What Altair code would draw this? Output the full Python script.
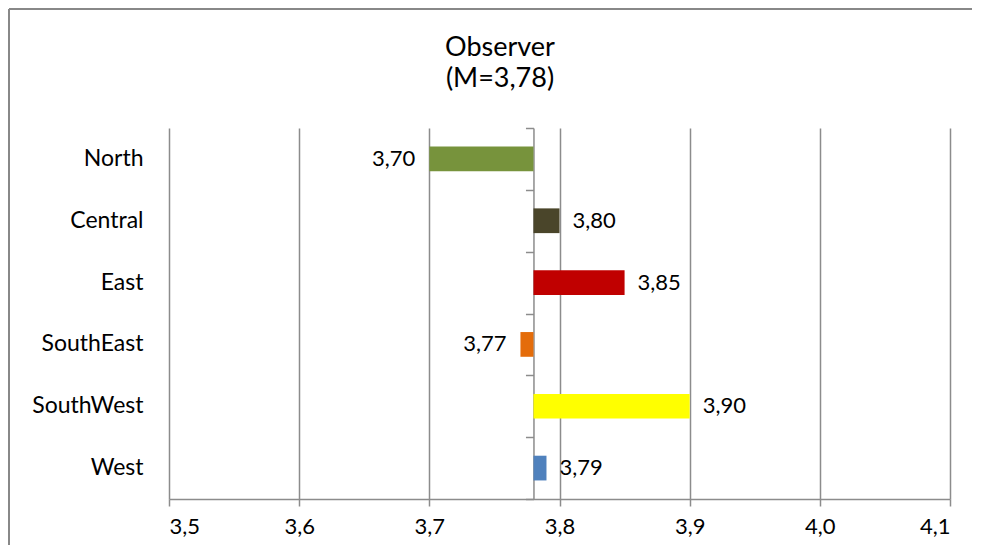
import altair as alt
import pandas as pd

regions = ["North", "Central", "East", "SouthEast", "SouthWest", "West"]
values = [3.70, 3.80, 3.85, 3.77, 3.90, 3.79]
colors = ["#77933C", "#4A452A", "#C00000", "#E46C0A", "#FFFF00", "#4F81BD"]
mean_value = 3.78
x_ticks = [3.5, 3.6, 3.7, 3.8, 3.9, 4.0, 4.1]
title_lines = ["Observer", "(M=3,78)"]

df = pd.DataFrame({
    "region": regions,
    "value": values,
    "color": colors,
    "label": [f"{v:.2f}".replace(".", ",") for v in values],
    "side": ["left" if v < mean_value else "right" for v in values],
})

FONT = "Lato"
GRID = "#8C8C8C"
W, H = 781, 371

yscale = alt.Scale(domain=regions, paddingInner=0.6, paddingOuter=0.3)
yaxis = alt.Axis(title=None, domain=False, ticks=False, labelPadding=26,
                 labelFontSize=23, labelFont=FONT, labelColor="#000")
yenc = alt.Y("region:N", sort=regions, scale=yscale, axis=yaxis)
xscale = alt.Scale(domain=[3.5, 4.1], nice=False, zero=False)
xaxis = alt.Axis(title=None, values=x_ticks, labelExpr="replace(format(datum.value, '.1f'), '.', ',')",
                 grid=True, gridColor=GRID, gridWidth=1.5, domainColor=GRID, domainWidth=1.5,
                 tickColor=GRID, tickWidth=1.5, tickSize=7, labelPadding=10,
                 labelFontSize=22, labelFont=FONT, labelColor="#000")
xenc = alt.X("value:Q", scale=xscale, axis=xaxis)

base = alt.Chart(df)

bars = base.mark_bar().encode(
    x=xenc,
    x2=alt.datum(mean_value),
    y=yenc,
    color=alt.Color("color:N", scale=None, legend=None),
)

text_right = base.transform_filter(alt.datum.side == "right").mark_text(
    align="left", dx=13, fontSize=22, font=FONT, color="#000"
).encode(x=xenc, y=yenc, text="label:N")

text_left = base.transform_filter(alt.datum.side == "left").mark_text(
    align="right", dx=-14, fontSize=22, font=FONT, color="#000"
).encode(x=xenc, y=yenc, text="label:N")

# Vertical axis at the mean, with ticks at the category boundaries
mean_axis = base.mark_rule(opacity=0).encode(
    x=alt.datum(mean_value),
    y=alt.Y("region:N", sort=regions,
            scale=alt.Scale(domain=regions, paddingInner=0, paddingOuter=0),
            axis=alt.Axis(title=None, orient="left", offset=-(W * (mean_value - 3.5) / 0.6),
                          labels=False, tickBand="extent", tickColor=GRID, tickWidth=1.5,
                          tickSize=8, domainColor=GRID, domainWidth=1.5, grid=False)),
)

title1 = alt.Chart(pd.DataFrame({"t": [title_lines[0]]})).mark_text(
    fontSize=27, font=FONT, color="#000", baseline="middle", align="center"
).encode(x=alt.value(331), y=alt.value(-80), text="t:N")
title2 = alt.Chart(pd.DataFrame({"t": [title_lines[1]]})).mark_text(
    fontSize=27, font=FONT, color="#000", baseline="middle", align="center"
).encode(x=alt.value(331), y=alt.value(-49), text="t:N")

frame_top = base.mark_rule(color="#888888", strokeWidth=2).encode(
    x=alt.value(-160), x2=alt.value(W + 22), y=alt.value(-119))
frame_left = base.mark_rule(color="#888888", strokeWidth=2).encode(
    x=alt.value(-160), y=alt.value(-119), y2=alt.value(H + 46))

main = alt.layer(bars, text_right, text_left)

chart = alt.layer(main, mean_axis, title1, title2, frame_top, frame_left).resolve_scale(
    y="independent"
).resolve_axis(
    y="independent"
).properties(
    width=W, height=H,
    padding={"left": 0, "top": 0, "right": 0, "bottom": 0},
).configure_view(stroke=None)

chart.save("out.html", embed_options={"renderer": "svg", "actions": False})
